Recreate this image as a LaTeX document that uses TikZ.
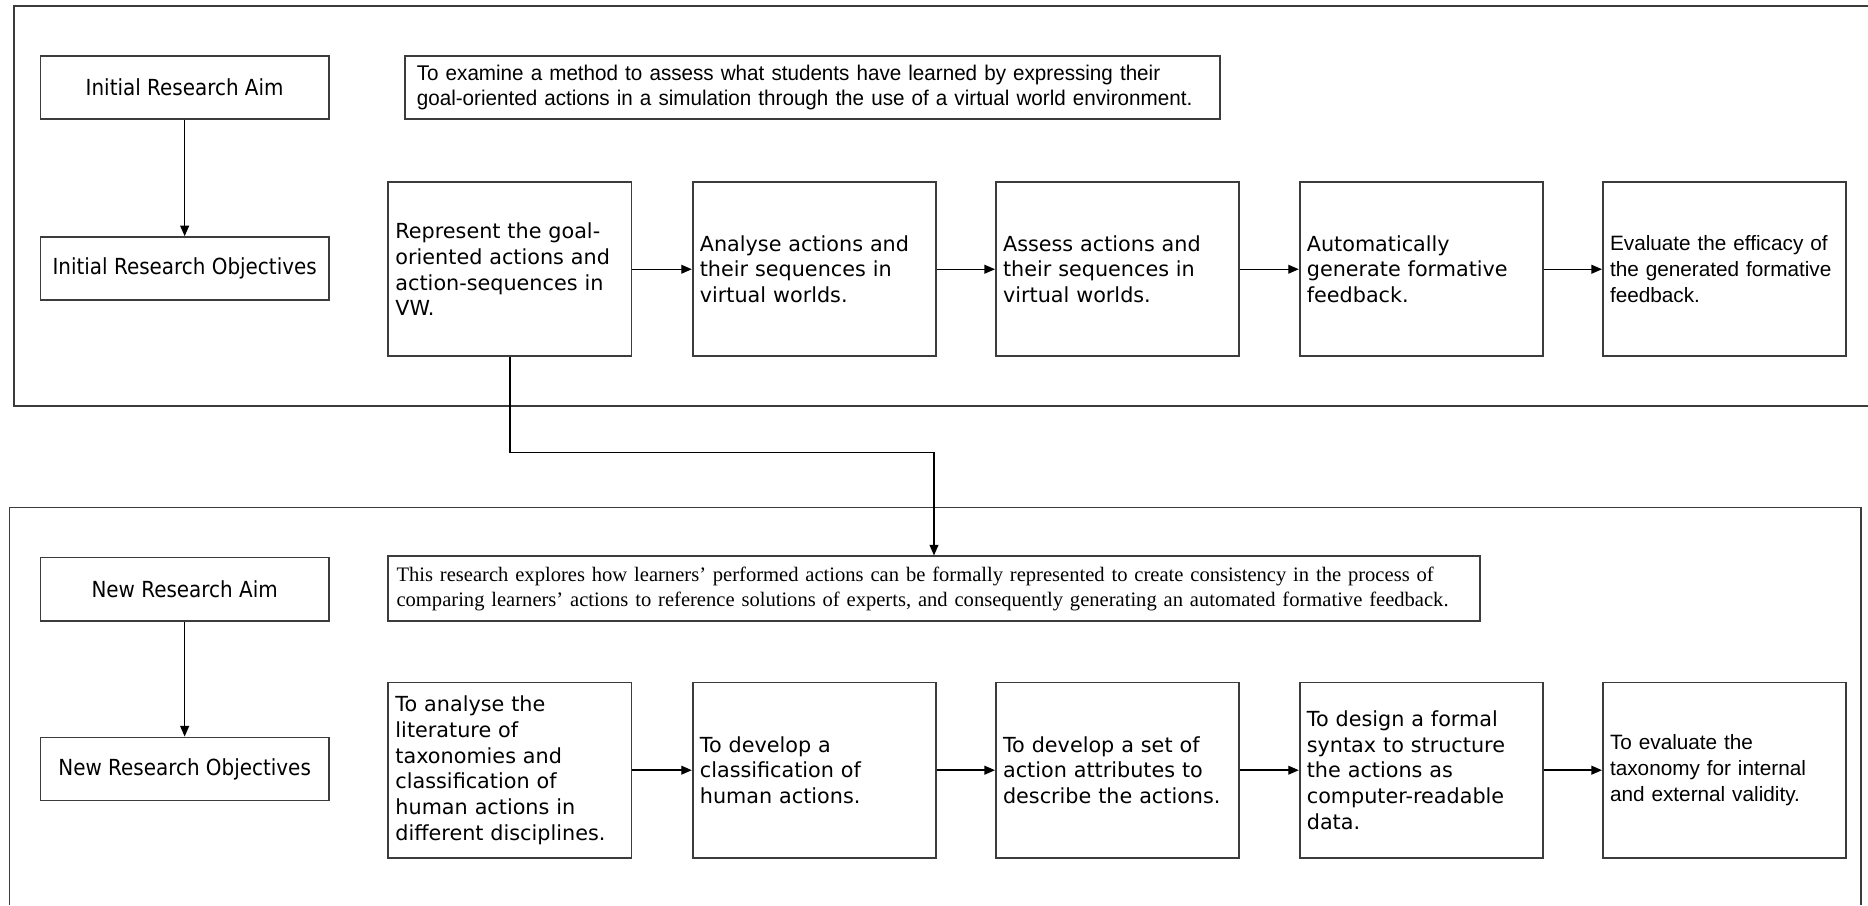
\documentclass[tikz,border=0pt]{standalone}
\usepackage{fontspec}
\setmainfont{Liberation Serif}
\newfontfamily\tahfont[FakeStretch=0.9]{DejaVu Sans}
\newfontfamily\verdfont{DejaVu Sans}
\newfontfamily\arialfont{Liberation Sans}
\newfontfamily\aimfont[FakeStretch=0.97]{Liberation Sans}
\usetikzlibrary{arrows.meta}
\definecolor{edgegray}{HTML}{3C3C3C}
\begin{document}
\begin{tikzpicture}[x=0.023826cm,y=-0.023826cm,
  frame/.style={draw=edgegray,line width=1pt},
  labelbox/.style={draw=edgegray,line width=1pt,minimum width=5.766cm,minimum height=1.263cm,
    inner sep=0pt,font=\tahfont\fontsize{12.6}{15}\selectfont},
  stepbox/.style={draw=edgegray,line width=1pt,minimum width=4.861cm,minimum height=3.479cm,
    inner xsep=0.143cm,inner ysep=0pt,text width=4.575cm,align=left,
    font=\verdfont\fontsize{11.8}{14.7}\selectfont},
  stepboxb/.style={stepbox,font=\arialfont\fontsize{11.8}{14.7}\selectfont},
  arr/.style={-{Triangle[length=6pt,width=5pt]},line width=0.8pt,black}]
\useasboundingbox (0,0) rectangle (1568,760);

% upper frame: initial research
\draw[frame] (1568,5) -- (12,5) -- (12,341) -- (1568,341);
% lower frame: new research
\draw[frame] (8,760) -- (8,426) -- (1562,426) -- (1562,760);

% initial aim and objectives
\node[labelbox] (la1) at (155,73.5) {Initial Research Aim};
\node[labelbox] (lo1) at (155,225.5) {Initial Research Objectives};
\node[draw=edgegray,line width=1pt,minimum width=16.297cm,minimum height=1.263cm,
  inner xsep=0.238cm,inner ysep=0pt,text width=15.82cm,align=left,
  font=\aimfont\fontsize{12.1}{14}\selectfont] (aim1) at (682,73.5)
  {To examine a method to assess what students have learned by expressing their\\
   goal-oriented actions in a simulation through the use of a virtual world environment.};

\node[stepbox] (r1a) at (428,226) {Represent the goal-\\oriented actions and\\action-sequences in\\VW.};
\node[stepbox] (r1b) at (683.5,226) {Analyse actions and\\their sequences in\\virtual worlds.};
\node[stepbox] (r1c) at (938,226) {Assess actions and\\their sequences in\\virtual worlds.};
\node[stepbox] (r1d) at (1193,226) {Automatically\\generate formative\\feedback.};
\node[stepboxb] (r1e) at (1447.5,226) {Evaluate the efficacy of\\the generated formative\\feedback.};

% new aim and objectives
\node[labelbox] (la2) at (155,494.5) {New Research Aim};
\node[labelbox] (lo2) at (155,645.5) {New Research Objectives};
\node[draw=edgegray,line width=1pt,minimum width=21.825cm,minimum height=1.287cm,
  inner xsep=0.167cm,inner ysep=0pt,text width=21.49cm,align=left,
  font=\fontsize{11.7}{14.2}\selectfont] (aim2) at (784,494)
  {This research explores how learners' performed actions can be formally represented to create consistency in the process of\\
   comparing learners' actions to reference solutions of experts, and consequently generating an automated formative feedback.};

\node[stepbox,minimum height=3.502cm] (r2a) at (428,646.5) {To analyse the\\literature of\\taxonomies and\\classification of\\human actions in\\different disciplines.};
\node[stepbox,minimum height=3.502cm] (r2b) at (683.5,646.5) {To develop a\\classification of\\human actions.};
\node[stepbox,minimum height=3.502cm] (r2c) at (938,646.5) {To develop a set of\\action attributes to\\describe the actions.};
\node[stepbox,minimum height=3.502cm] (r2d) at (1193,646.5) {To design a formal\\syntax to structure\\the actions as\\computer-readable\\data.};
\node[stepboxb,minimum height=3.502cm] (r2e) at (1447.5,646.5) {To evaluate the\\taxonomy for internal\\and external validity.};

% connectors
\draw[arr] (la1) -- (lo1);
\draw[arr] (la2) -- (lo2);
\foreach \a/\b in {r1a/r1b,r1b/r1c,r1c/r1d,r1d/r1e,r2a/r2b,r2b/r2c,r2c/r2d,r2d/r2e}
  \draw[arr] (\a) -- (\b);
\draw[arr] (r1a.south) -- ++(0,80) -| (aim2.north);
\end{tikzpicture}
\end{document}
